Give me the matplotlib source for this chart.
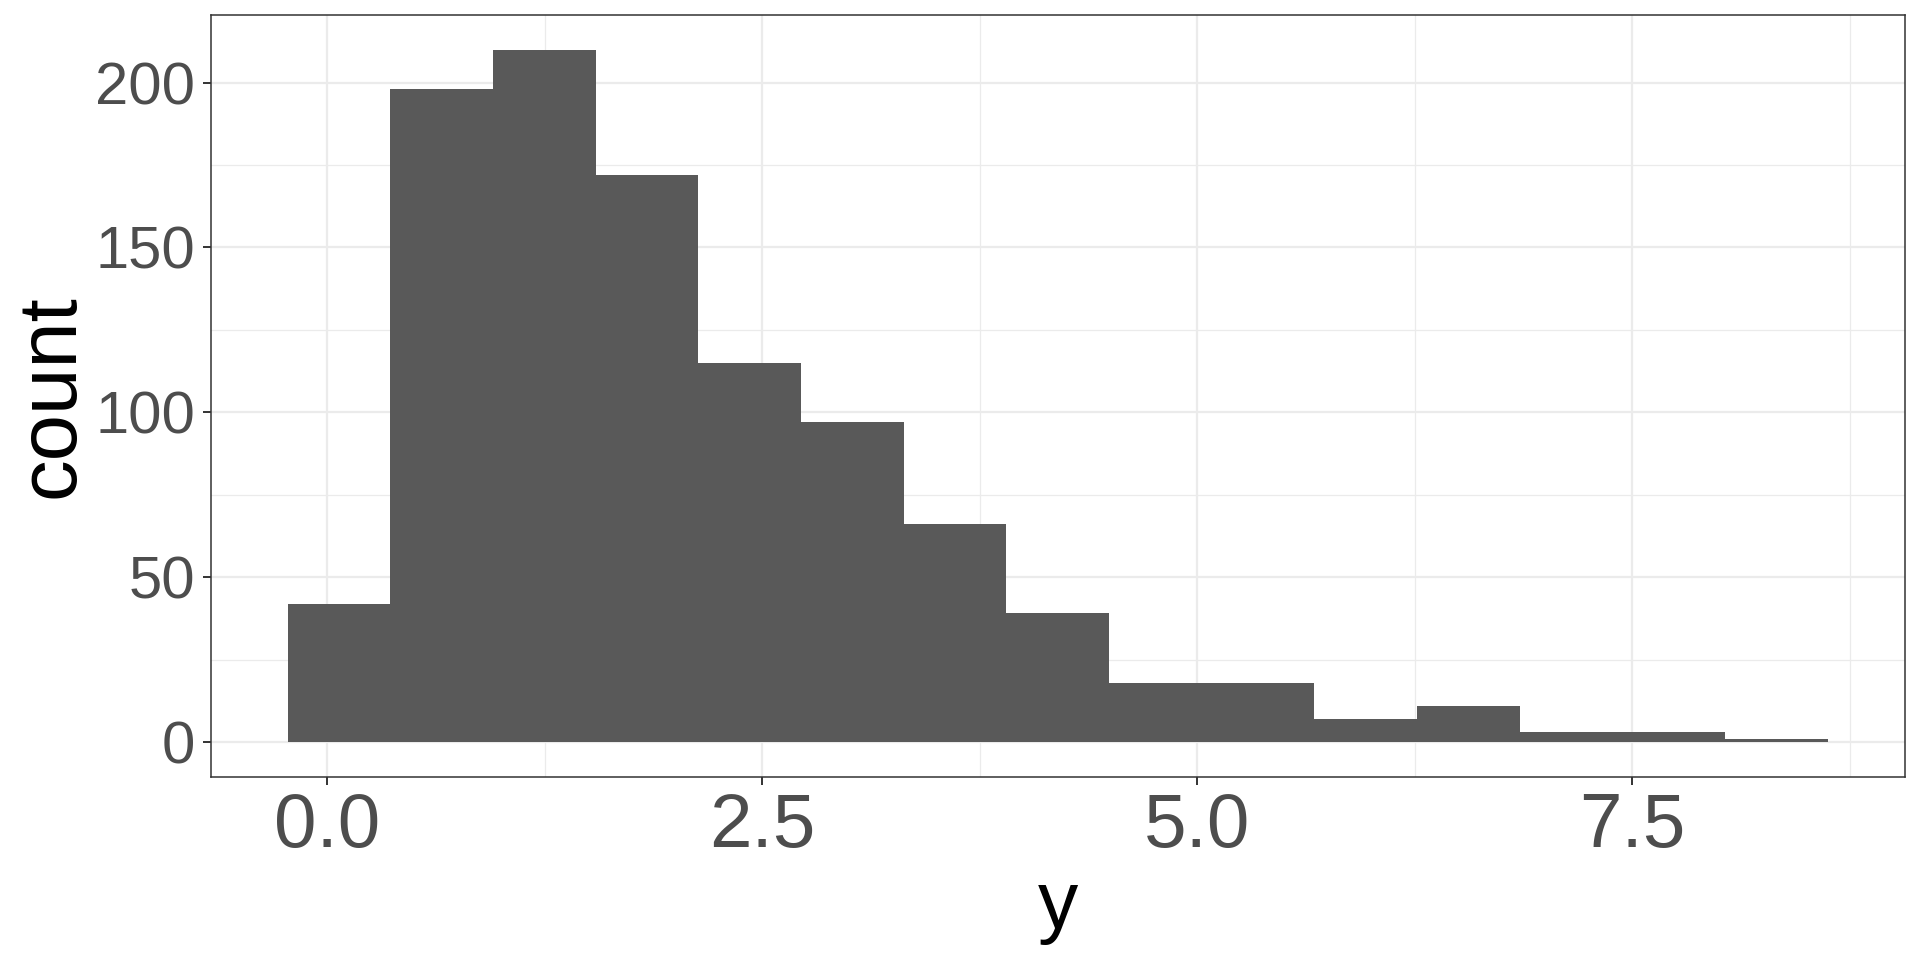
import numpy as np
import matplotlib
matplotlib.use("Agg")
import matplotlib.pyplot as plt
from matplotlib.ticker import MultipleLocator

# histogram of y: 15 bins, counts
bin_start = -0.228
bin_width = 0.590
counts = [42, 198, 210, 172, 115, 97, 66, 39, 18, 18, 7, 11, 3, 3, 1]

x_ticks = [0.0, 2.5, 5.0, 7.5]
x_tick_labels = ["0.0", "2.5", "5.0", "7.5"]
y_ticks = [0, 50, 100, 150, 200]

plt.rcParams['font.family'] = ['Liberation Sans', 'DejaVu Sans']

fig = plt.figure(figsize=(19.2, 9.6), dpi=100)
ax = fig.add_axes([210.7 / 1920, 1 - 776.7 / 960, 1694 / 1920, 761.7 / 960])

edges = bin_start + bin_width * np.arange(len(counts) + 1)
ax.bar(edges[:-1], counts, width=bin_width, align='edge',
       color='#595959', linewidth=0, zorder=2)

# ggplot style 5% expansion
span = edges[-1] - edges[0]
ax.set_xlim(edges[0] - 0.05 * span, edges[-1] + 0.05 * span)
ax.set_ylim(-0.05 * max(counts), 1.05 * max(counts))

ax.set_xticks(x_ticks)
ax.set_xticklabels(x_tick_labels)
ax.set_yticks(y_ticks)
ax.xaxis.set_minor_locator(MultipleLocator(1.25))
ax.yaxis.set_minor_locator(MultipleLocator(25))

ax.grid(which='major', color='#EBEBEB', linewidth=1.6, zorder=0)
ax.grid(which='minor', color='#EBEBEB', linewidth=0.9, zorder=0)
ax.set_axisbelow(True)

ax.tick_params(which='major', length=5.8, width=1.4, color='#333333',
               labelcolor='#4D4D4D')
ax.tick_params(axis='x', which='major', labelsize=55, pad=5)
ax.tick_params(axis='y', which='major', labelsize=43, pad=5.5)
ax.tick_params(which='minor', length=0)

for s in ax.spines.values():
    s.set_color('#333333')
    s.set_linewidth(1.1)

ax.set_xlabel("y", fontsize=58, color='black', va='baseline')
ax.xaxis.set_label_coords(0.5, (776.7 - 928) / 761.7)
ax.set_ylabel("count", fontsize=60, color='black', va='baseline')
ax.yaxis.set_label_coords((74 - 210.7) / 1694, 0.5)

fig.savefig("out.png", dpi=100)
